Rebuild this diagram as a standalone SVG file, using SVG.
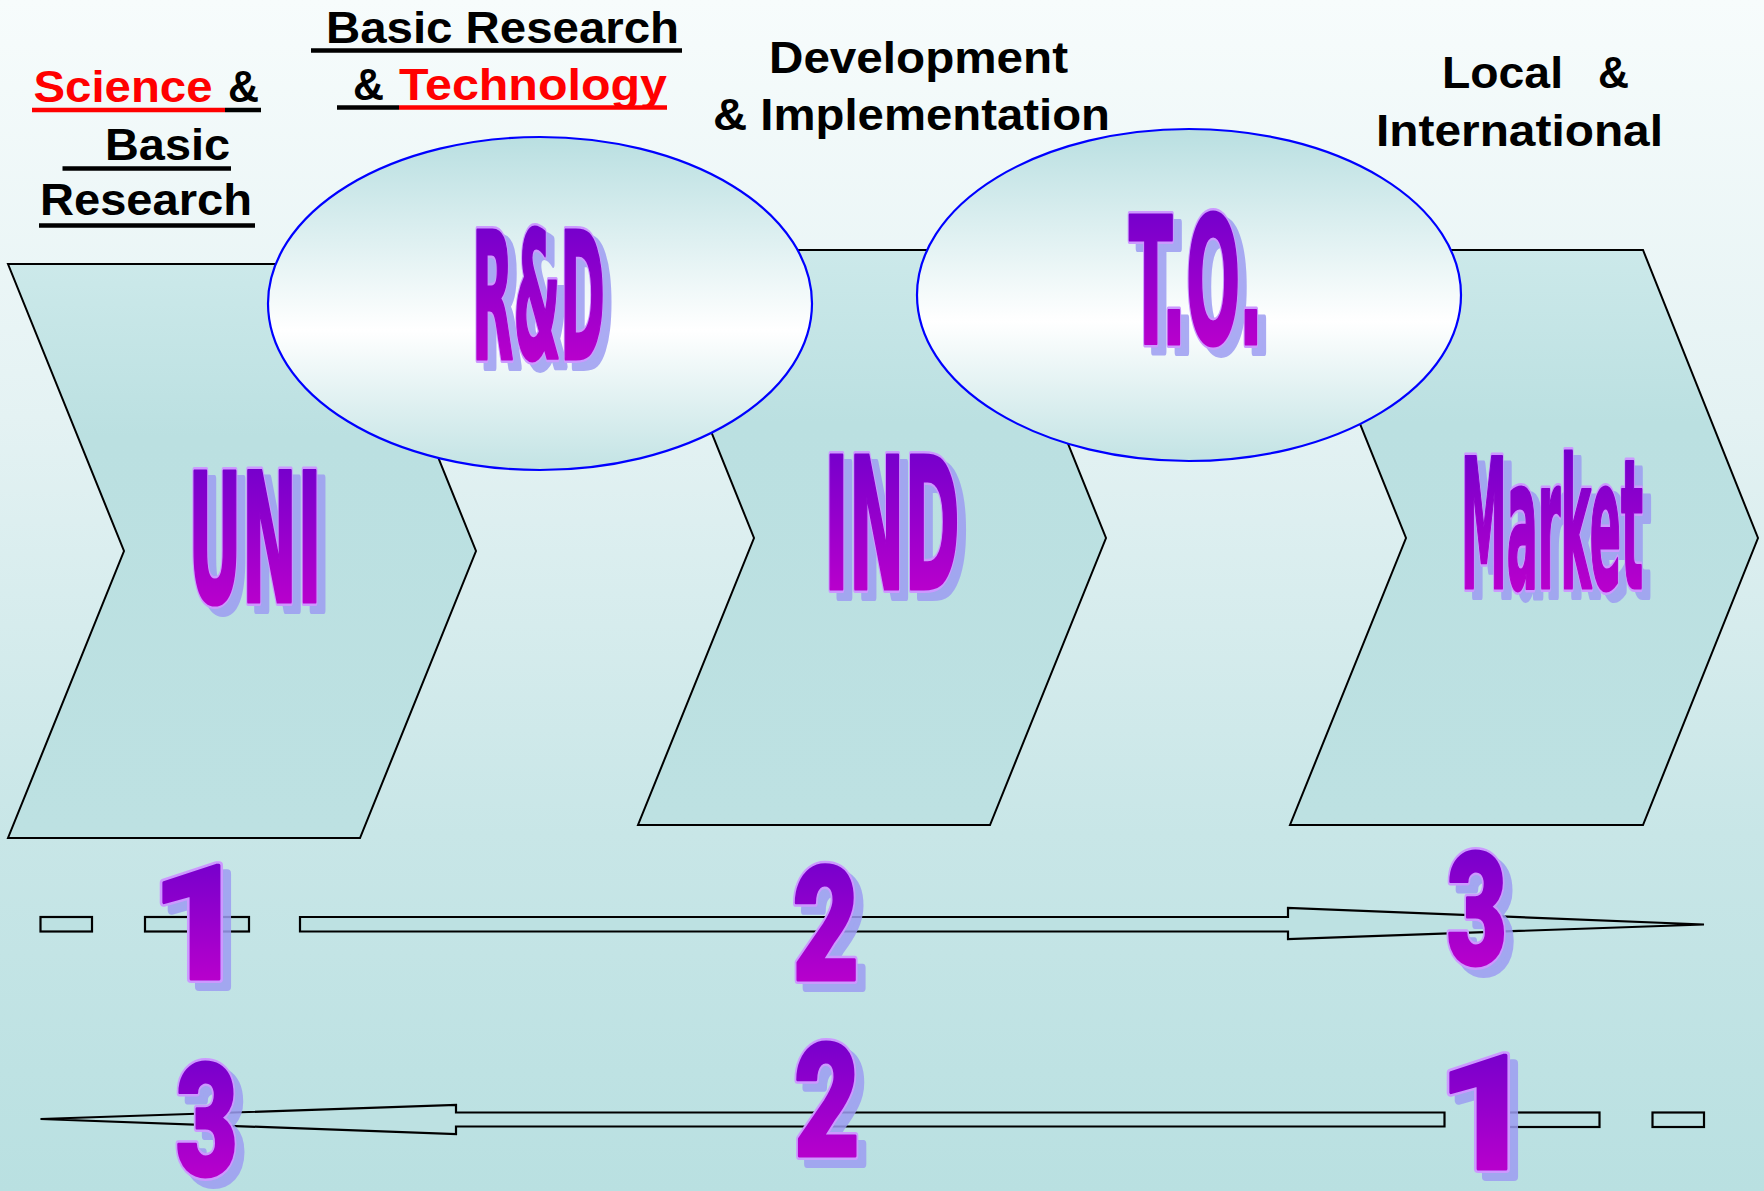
<svg xmlns="http://www.w3.org/2000/svg" xmlns:xlink="http://www.w3.org/1999/xlink" width="1764" height="1191" viewBox="0 0 1764 1191">
<defs>
  <linearGradient id="bg" x1="0" y1="0" x2="0" y2="1">
    <stop offset="0" stop-color="#f7fcfc"/>
    <stop offset="0.35" stop-color="#e4f2f3"/>
    <stop offset="0.7" stop-color="#c8e6e7"/>
    <stop offset="1" stop-color="#b9e0e1"/>
  </linearGradient>
  <linearGradient id="chev" x1="0" y1="0" x2="0" y2="1">
    <stop offset="0" stop-color="#cce9ea"/>
    <stop offset="0.3" stop-color="#bbe0e1"/>
    <stop offset="1" stop-color="#bde1e2"/>
  </linearGradient>
  <linearGradient id="ell" x1="0" y1="0" x2="0" y2="1">
    <stop offset="0" stop-color="#b9dfe1"/>
    <stop offset="0.58" stop-color="#ffffff"/>
    <stop offset="1" stop-color="#c2e3e4"/>
  </linearGradient>
  <linearGradient id="wa" x1="0" y1="0" x2="0" y2="1">
    <stop offset="0" stop-color="#6600cc"/>
    <stop offset="1" stop-color="#cc00cc"/>
  </linearGradient>
  <style>
    .lbl { font-family: "Liberation Sans", Arial, sans-serif; font-weight: bold; font-size: 44px; fill: #000; }
    .red { fill: #ff0000; }
    .ul { stroke-width: 4.5; }
    .chevron { fill: url(#chev); stroke: #000; stroke-width: 2; stroke-linejoin: miter; }
    .ellipse { fill: url(#ell); stroke: #0000ff; stroke-width: 2.2; }
    .arrow { fill: #bde1e2; stroke: #000; stroke-width: 2.2; stroke-linejoin: miter; }
    .wt { font-family: "Liberation Sans Narrow", "DejaVu Sans Condensed", "Liberation Sans", sans-serif; font-weight: bold; }
    .wn { font-family: Roboto, "Open Sans", "Liberation Sans", sans-serif; font-weight: 900; }
    .sh { fill: #9d9df2; stroke: #9d9df2; stroke-width: 8; stroke-linejoin: round; opacity: 0.85; }
    .wo { fill: url(#wa); stroke: #cc99ff; stroke-width: 8; stroke-linejoin: round; }
    .wf { fill: url(#wa); stroke: url(#wa); stroke-width: 3; stroke-linejoin: round; }
  </style>
  <text id="tUNI" class="wt" x="188" y="602" font-size="180" textLength="134" lengthAdjust="spacingAndGlyphs">UNI</text>
  <text id="tRD" class="wt" x="472" y="359" font-size="177" textLength="133" lengthAdjust="spacingAndGlyphs">R&amp;D</text>
  <text id="tIND" class="wt" x="824" y="589" font-size="183" textLength="136" lengthAdjust="spacingAndGlyphs">IND</text>
  <text id="tMKT" class="wt" x="1461" y="588" font-size="180" textLength="182" lengthAdjust="spacingAndGlyphs">Market</text>
  <text id="tTO" class="wt" x="1129" y="344" font-size="176" textLength="134" lengthAdjust="spacingAndGlyphs">T.O.</text>
  <text id="n1a" class="wn" x="0" y="0" font-size="160" text-anchor="middle" transform="translate(199,979) scale(1.05,1)">1</text>
  <text id="n2a" class="wn" x="0" y="0" font-size="160" text-anchor="middle" transform="translate(826,980) scale(0.72,1)">2</text>
  <text id="n3a" class="wn" x="0" y="0" font-size="158" text-anchor="middle" transform="translate(1477,964) scale(0.66,1)">3</text>
  <text id="n3b" class="wn" x="0" y="0" font-size="158" text-anchor="middle" transform="translate(207,1175) scale(0.68,1)">3</text>
  <text id="n2b" class="wn" x="0" y="0" font-size="158" text-anchor="middle" transform="translate(827,1156) scale(0.72,1)">2</text>
  <text id="n1b" class="wn" x="0" y="0" font-size="160" text-anchor="middle" transform="translate(1486,1169) scale(1.05,1)">1</text>
</defs>

<rect x="0" y="0" width="1764" height="1191" fill="url(#bg)"/>

<!-- Chevron nodes -->
<g id="node-uni-chevron">
  <polygon class="chevron" points="8,264 360,264 476,551 360,838 8,838 124,551"/>
</g>
<g id="node-ind-chevron">
  <polygon class="chevron" points="638,250 990,250 1106,538 990,825 638,825 754,538"/>
</g>
<g id="node-market-chevron">
  <polygon class="chevron" points="1290,250 1643,250 1758,538 1643,825 1290,825 1406,538"/>
</g>

<!-- Ellipse nodes -->
<g id="node-rd-ellipse">
  <ellipse class="ellipse" cx="540" cy="303.5" rx="272" ry="166.5"/>
</g>
<g id="node-to-ellipse">
  <ellipse class="ellipse" cx="1189" cy="295" rx="272" ry="166"/>
</g>

<!-- Connectors (block arrows) -->
<g id="connectors">
  <rect class="arrow" x="40.5" y="917" width="51.5" height="14.5"/>
  <rect class="arrow" x="145" y="917" width="104" height="14.5"/>
  <polygon class="arrow" points="300,917 1288,917 1288,908 1704,924.5 1288,939 1288,931.5 300,931.5"/>
  <polygon class="arrow" points="1444.5,1112.5 456,1112.5 456,1105 40.5,1119 456,1134 456,1126.5 1444.5,1126.5"/>
  <rect class="arrow" x="1495.5" y="1112.5" width="104" height="14.5"/>
  <rect class="arrow" x="1652.5" y="1112.5" width="51.5" height="14.5"/>
</g>

<!-- Word-art labels -->
<g id="label-uni"><use href="#tUNI" class="sh" transform="translate(8,8)"/><use href="#tUNI" class="wo"/><use href="#tUNI" class="wf"/></g>
<g id="label-rd"><use href="#tRD" class="sh" transform="translate(8,8)"/><use href="#tRD" class="wo"/><use href="#tRD" class="wf"/></g>
<g id="label-ind"><use href="#tIND" class="sh" transform="translate(8,8)"/><use href="#tIND" class="wo"/><use href="#tIND" class="wf"/></g>
<g id="label-market"><use href="#tMKT" class="sh" transform="translate(8,8)"/><use href="#tMKT" class="wo"/><use href="#tMKT" class="wf"/></g>
<g id="label-to"><use href="#tTO" class="sh" transform="translate(8,8)"/><use href="#tTO" class="wo"/><use href="#tTO" class="wf"/></g>
<g id="num-top-1"><use href="#n1a" class="sh" transform="translate(8,8)"/><use href="#n1a" class="wo"/><use href="#n1a" class="wf"/></g>
<g id="num-top-2"><use href="#n2a" class="sh" transform="translate(8,8)"/><use href="#n2a" class="wo"/><use href="#n2a" class="wf"/></g>
<g id="num-top-3"><use href="#n3a" class="sh" transform="translate(8,8)"/><use href="#n3a" class="wo"/><use href="#n3a" class="wf"/></g>
<g id="num-bot-3"><use href="#n3b" class="sh" transform="translate(8,8)"/><use href="#n3b" class="wo"/><use href="#n3b" class="wf"/></g>
<g id="num-bot-2"><use href="#n2b" class="sh" transform="translate(8,8)"/><use href="#n2b" class="wo"/><use href="#n2b" class="wf"/></g>
<g id="num-bot-1"><use href="#n1b" class="sh" transform="translate(8,8)"/><use href="#n1b" class="wo"/><use href="#n1b" class="wf"/></g>

<!-- Top captions -->
<g id="caption-science">
  <text class="lbl red" x="33.5" y="102" textLength="179" lengthAdjust="spacingAndGlyphs">Science</text>
  <text class="lbl" x="228" y="102" textLength="31" lengthAdjust="spacingAndGlyphs">&amp;</text>
  <line class="ul" x1="32" y1="110" x2="225" y2="110" stroke="#ff0000"/>
  <line class="ul" x1="225" y1="110" x2="261" y2="110" stroke="#000"/>
  <text class="lbl" x="105" y="160" textLength="125" lengthAdjust="spacingAndGlyphs">Basic</text>
  <line class="ul" x1="62.5" y1="168.5" x2="231" y2="168.5" stroke="#000"/>
  <text class="lbl" x="40" y="215" textLength="212" lengthAdjust="spacingAndGlyphs">Research</text>
  <line class="ul" x1="39" y1="225.5" x2="255" y2="225.5" stroke="#000"/>
</g>
<g id="caption-basic-research">
  <text class="lbl" x="326" y="42.7" textLength="353" lengthAdjust="spacingAndGlyphs">Basic Research</text>
  <line class="ul" x1="311" y1="50.5" x2="682" y2="50.5" stroke="#000"/>
  <text class="lbl" x="353" y="100" textLength="31" lengthAdjust="spacingAndGlyphs">&amp;</text>
  <text class="lbl red" x="399" y="100" textLength="268" lengthAdjust="spacingAndGlyphs">Technology</text>
  <line class="ul" x1="337" y1="107.5" x2="399" y2="107.5" stroke="#000"/>
  <line class="ul" x1="399" y1="107.5" x2="667" y2="107.5" stroke="#ff0000"/>
</g>
<g id="caption-development">
  <text class="lbl" x="769" y="73" textLength="299" lengthAdjust="spacingAndGlyphs">Development</text>
  <text class="lbl" x="713" y="130" textLength="397" lengthAdjust="spacingAndGlyphs">&amp; Implementation</text>
</g>
<g id="caption-local">
  <text class="lbl" x="1442" y="88" textLength="121" lengthAdjust="spacingAndGlyphs">Local</text>
  <text class="lbl" x="1598" y="88" textLength="31" lengthAdjust="spacingAndGlyphs">&amp;</text>
  <text class="lbl" x="1376" y="146" textLength="287" lengthAdjust="spacingAndGlyphs">International</text>
</g>
</svg>
